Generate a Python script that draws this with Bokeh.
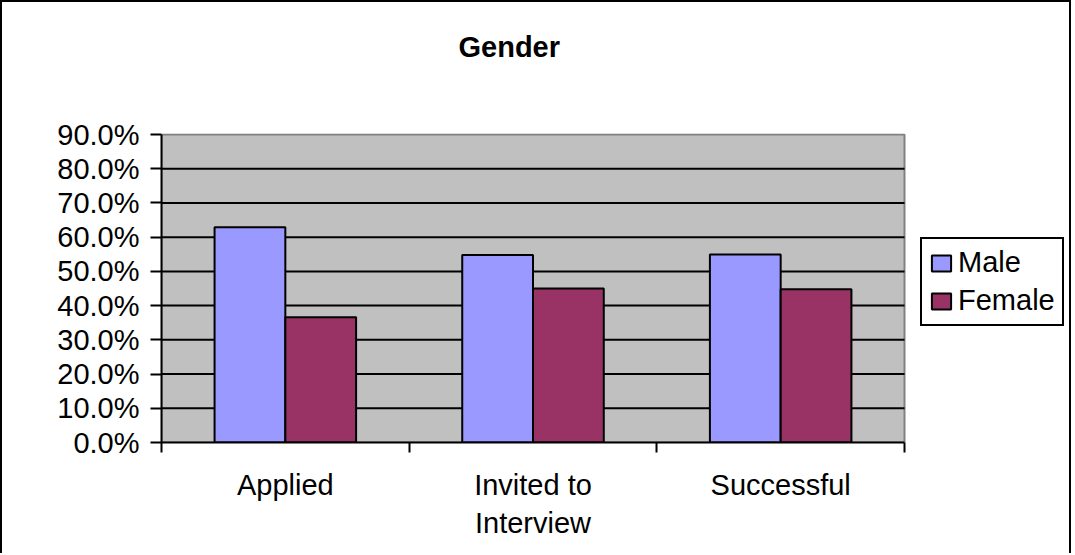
from bokeh.plotting import figure
from bokeh.models import (ColumnDataSource, Range1d, FixedTicker, PrintfTickFormatter,
                          Legend, LegendItem, Title, BoxAnnotation)
from bokeh.transform import dodge
from bokeh.embed import file_html
from bokeh.resources import INLINE

# ---- data ----
categories = ["Applied", "Invited to\nInterview", "Successful"]
series_names = ["Male", "Female"]
male = [62.9, 54.8, 54.9]
female = [36.6, 45.0, 44.8]
y_ticks = [0, 10, 20, 30, 40, 50, 60, 70, 80, 90]

FONT = "Liberation Sans"
FS = "29px"

# ---- layout (pixels) ----
CW, CH = 1071, 553            # canvas inside a 2px page border
FL, FR_MARGIN = 159, 5        # frame left / right margin in canvas px
FT, FB = 131, 113             # frame top / bottom margin
AREA_W = 743                  # width of grey plot area
AREA_H = 308                  # height of 0..90 span
frame_w = CW - FL - FR_MARGIN
frame_h = CH - FT - FB
n = len(categories)
y_max = y_ticks[-1]

xpos = [i + 0.5 for i in range(n)]
src = ColumnDataSource(dict(x=xpos, male=male, female=female))

p = figure(width=CW, height=CH, output_backend="svg", toolbar_location=None,
           x_range=Range1d(0, n * frame_w / AREA_W),
           y_range=Range1d(0, y_max * frame_h / AREA_H),
           min_border_left=FL, min_border_right=FR_MARGIN,
           min_border_top=FT, min_border_bottom=FB)
p.styles = {"border-left": "2px solid black", "border-top": "2px solid black",
            "border-right": "2px solid black"}

p.background_fill_color = "white"
p.border_fill_color = "white"
p.outline_line_color = None
p.xgrid.visible = False
p.ygrid.visible = False

# grey plot area
p.add_layout(BoxAnnotation(left=0, right=n, bottom=0, top=y_max,
                           fill_color="#C0C0C0", fill_alpha=1,
                           line_color="#808080", line_width=2, line_alpha=1,
                           level="underlay"))

# horizontal gridlines across the plot area only
grid_vals = y_ticks[1:-1]
p.segment(x0=[0] * len(grid_vals), x1=[n] * len(grid_vals), y0=grid_vals, y1=grid_vals,
          line_color="black", line_width=2)

bw = 1 / 3.5
r_m = p.vbar(x=dodge("x", -bw / 2), top="male", width=bw, source=src,
             fill_color="#9999FF", line_color="black", line_width=2)
r_f = p.vbar(x=dodge("x", bw / 2), top="female", width=bw, source=src,
             fill_color="#993366", line_color="black", line_width=2)

# y axis
ya = p.yaxis[0]
ya.bounds = (0, y_max)
ya.ticker = FixedTicker(ticks=y_ticks)
ya.formatter = PrintfTickFormatter(format="%.1f%%")
ya.axis_line_color = "black"
ya.axis_line_width = 2
ya.major_tick_line_color = "black"
ya.major_tick_line_width = 2
ya.major_tick_out = 11
ya.major_tick_in = 0
ya.minor_tick_line_color = None
ya.major_label_standoff = 11
ya.major_label_text_font = FONT
ya.major_label_text_font_size = FS
ya.major_label_text_color = "black"

# x axis: labels at category centres, tick marks at category boundaries
xa = p.xaxis[0]
xa.bounds = (0, n)
xa.ticker = FixedTicker(ticks=xpos, minor_ticks=list(range(n + 1)))
xa.major_label_overrides = {xp: c for xp, c in zip(xpos, categories)}
xa.axis_line_color = "black"
xa.axis_line_width = 2
xa.major_tick_line_color = None
xa.major_tick_out = 0
xa.major_tick_in = 0
xa.minor_tick_line_color = "black"
xa.minor_tick_line_width = 2
xa.minor_tick_out = 10
xa.minor_tick_in = 0
xa.major_label_standoff = 16
xa.major_label_text_font = FONT
xa.major_label_text_font_size = FS
xa.major_label_text_color = "black"

# spacer between frame and title, then the title
spacer = Title(text=" ", text_font_size="10px", standoff=58)
p.add_layout(spacer, "above")
t = Title(text="Gender", align="left", offset=297, standoff=0,
          text_font=FONT, text_font_size=FS, text_font_style="bold",
          text_color="black")
p.add_layout(t, "above")

# legend (inside the extended frame, right of the grey area)
legend = Legend(items=[LegendItem(label=series_names[0], renderers=[r_m]),
                       LegendItem(label=series_names[1], renderers=[r_f])],
                location=(759, 116))
legend.border_line_color = "black"
legend.border_line_width = 2
legend.border_line_alpha = 1
legend.background_fill_color = "white"
legend.background_fill_alpha = 1
legend.label_text_font = FONT
legend.label_text_font_size = FS
legend.label_text_color = "black"
legend.glyph_width = 24
legend.glyph_height = 20
legend.label_standoff = 5
legend.padding = 7
legend.spacing = 5
legend.margin = 0
p.add_layout(legend, "center")

open("out.html", "w").write(file_html(p, INLINE))
